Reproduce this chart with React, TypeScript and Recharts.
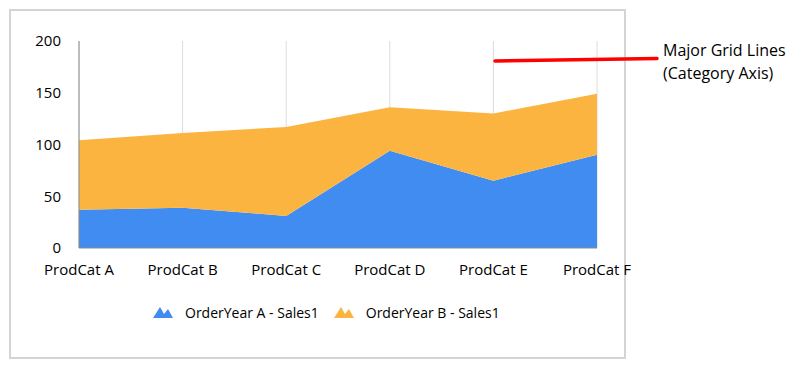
import { AreaChart, Area, XAxis, YAxis, CartesianGrid, Legend } from 'recharts';

const categories = ['ProdCat A', 'ProdCat B', 'ProdCat C', 'ProdCat D', 'ProdCat E', 'ProdCat F'];
const salesYearA = [37, 39, 31, 94, 65, 90];
const salesYearB = [67, 72, 86, 42, 65, 59];
const yTicks = [0, 50, 100, 150, 200];
const seriesNames = ['OrderYear A - Sales1', 'OrderYear B - Sales1'];
const seriesColors = ['#418CF0', '#FCB441'];

const data = categories.map((name, i) => ({ name, a: salesYearA[i], b: salesYearB[i] }));

const FONT = '"Open Sans", sans-serif';

function MountainIcon({ color }: { color: string }) {
  return (
    <svg width={20} height={11} style={{ display: 'block' }}>
      <polygon points="0,11 7,0 11,7 15,2 20,11" fill={color} />
    </svg>
  );
}

function LegendContent(props: any) {
  const payload = props.payload || [];
  return (
    <div style={{ display: 'flex', alignItems: 'center', fontFamily: FONT, fontSize: 14, color: '#000' }}>
      {payload.map((entry: any, i: number) => (
        <div key={i} style={{ display: 'flex', alignItems: 'center', marginRight: 15 }}>
          <MountainIcon color={entry.color} />
          <span style={{ marginLeft: 12 }}>{entry.value}</span>
        </div>
      ))}
    </div>
  );
}

export default function App() {
  return (
    <div style={{ position: 'absolute', left: 0, top: 0, width: 802, height: 365, background: '#fff' }}>
      <div
        style={{
          position: 'absolute',
          left: 9,
          top: 9,
          width: 613,
          height: 346,
          border: '2px solid #d4d4d4',
        }}
      >
        <div style={{ position: 'absolute', left: -11, top: -11 }}>
          <AreaChart width={640} height={365} data={data} margin={{ top: 41, right: 43, bottom: 87, left: 0 }}>
            <CartesianGrid horizontal={false} stroke="#dcdcdc" />
            <XAxis
              dataKey="name"
              height={30}
              axisLine={{ stroke: '#8c8c8c' }}
              tickLine={false}
              tickSize={0}
              tickMargin={16}
              interval={0}
              tick={{ fill: '#000', fontSize: 15, fontFamily: FONT }}
            />
            <YAxis
              width={79}
              domain={[0, 200]}
              ticks={yTicks}
              axisLine={{ stroke: '#8c8c8c' }}
              tickLine={false}
              tickSize={0}
              tickMargin={18}
              tick={{ fill: '#000', fontSize: 15, fontFamily: FONT }}
            />
            <Legend
              layout="horizontal"
              verticalAlign="middle"
              align="center"
              wrapperStyle={{ left: 153, top: 303, width: 420 }}
              content={<LegendContent />}
            />
            <Area
              type="linear"
              dataKey="a"
              name={seriesNames[0]}
              stackId="1"
              stroke="none"
              fill={seriesColors[0]}
              fillOpacity={1}
              isAnimationActive={false}
            />
            <Area
              type="linear"
              dataKey="b"
              name={seriesNames[1]}
              stackId="1"
              stroke="none"
              fill={seriesColors[1]}
              fillOpacity={1}
              isAnimationActive={false}
            />
          </AreaChart>
        </div>
      </div>
      <svg style={{ position: 'absolute', left: 0, top: 0 }} width={802} height={365}>
        <line x1={495} y1={61} x2={657} y2={58.5} stroke="#ff0000" strokeWidth={3.5} strokeLinecap="round" />
      </svg>
      <div
        style={{
          position: 'absolute',
          left: 663,
          top: 39,
          fontFamily: FONT,
          fontSize: 16,
          lineHeight: '23px',
          color: '#000',
          whiteSpace: 'nowrap',
        }}
      >
        Major Grid Lines
        <br />
        (Category Axis)
      </div>
    </div>
  );
}
